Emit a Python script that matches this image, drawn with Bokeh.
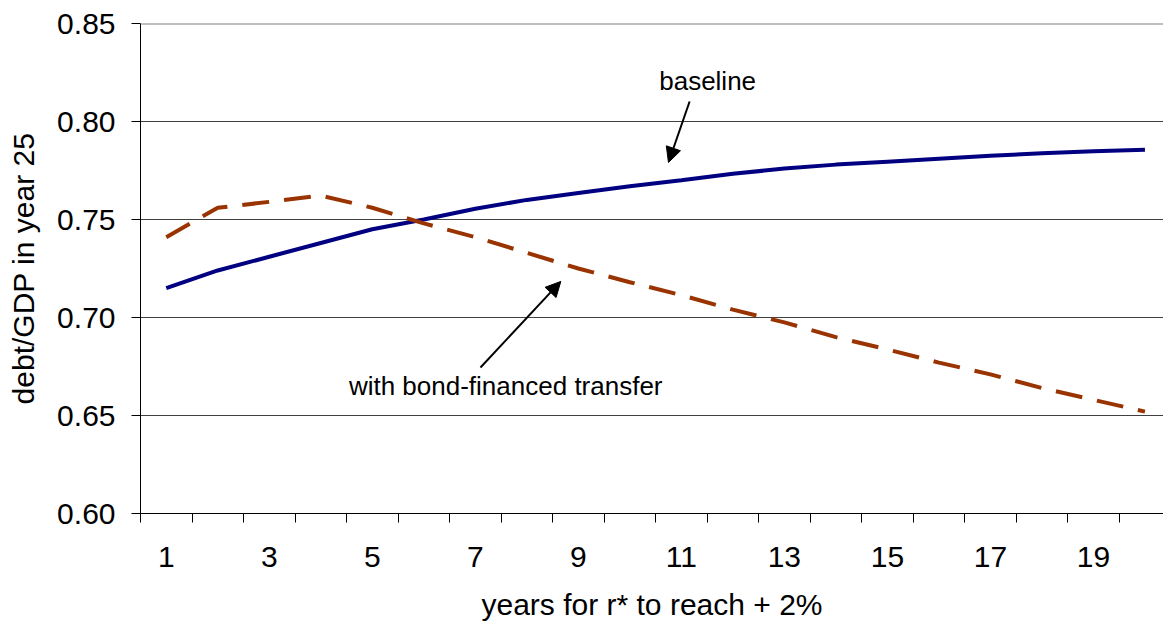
from bokeh.plotting import figure
from bokeh.models import Range1d, FixedTicker, Label, Arrow, NormalHead, Span, CustomJSTickFormatter
from bokeh.embed import file_html
from bokeh.resources import INLINE

years = list(range(1, 21))
baseline = [0.715, 0.724, 0.731, 0.738, 0.745, 0.750, 0.7555, 0.760, 0.7635, 0.767,
            0.770, 0.7733, 0.776, 0.778, 0.7795, 0.781, 0.7825, 0.7838, 0.7848, 0.7856]
bond_financed = [0.741, 0.756, 0.759, 0.7622, 0.756, 0.748, 0.741, 0.733, 0.725, 0.718,
                 0.7114, 0.704, 0.6975, 0.690, 0.6837, 0.677, 0.671, 0.664, 0.658, 0.652]
x_tick_labels = [1, 3, 5, 7, 9, 11, 13, 15, 17, 19]
y_ticks = [0.60, 0.65, 0.70, 0.75, 0.80, 0.85]

FONT = "Liberation Sans"

p = figure(width=1163, height=626, output_backend="svg", toolbar_location=None,
           x_range=Range1d(0.5, 20.36), y_range=Range1d(0.60, 0.85),
           min_border_left=140, min_border_top=23, min_border_bottom=113,
           min_border_right=0)
p.outline_line_color = None
p.background_fill_color = "white"

# grid
p.xgrid.grid_line_color = None
p.ygrid.ticker = FixedTicker(ticks=[0.65, 0.70, 0.75, 0.80])
p.ygrid.grid_line_color = "#404040"
p.ygrid.grid_line_width = 1
p.add_layout(Span(location=0.85, dimension="width", line_color="#808080", line_width=2))

# y axis
p.yaxis.ticker = FixedTicker(ticks=y_ticks)
p.yaxis.formatter = CustomJSTickFormatter(code="return tick.toFixed(2);")
p.yaxis.axis_line_color = "black"
p.yaxis.major_tick_line_color = "black"
p.yaxis.major_tick_out = 9
p.yaxis.major_tick_in = 0
p.yaxis.minor_tick_line_color = None
p.yaxis.major_label_text_font = FONT
p.yaxis.major_label_text_font_size = "30px"
p.yaxis.major_label_text_color = "black"
p.yaxis.major_label_standoff = 16
p.yaxis.axis_label = "debt/GDP in year 25"
p.yaxis.axis_label_text_font = FONT
p.yaxis.axis_label_text_font_size = "30px"
p.yaxis.axis_label_text_font_style = "normal"
p.yaxis.axis_label_text_color = "black"
p.yaxis.axis_label_standoff = 14

# x axis
p.xaxis.ticker = FixedTicker(ticks=x_tick_labels,
                             minor_ticks=[k + 0.5 for k in range(0, 20)])
p.xaxis.axis_line_color = "black"
p.xaxis.major_tick_out = 0
p.xaxis.major_tick_in = 0
p.xaxis.minor_tick_out = 9
p.xaxis.minor_tick_in = 0
p.xaxis.minor_tick_line_color = "black"
p.xaxis.major_label_text_font = FONT
p.xaxis.major_label_text_font_size = "30px"
p.xaxis.major_label_text_color = "black"
p.xaxis.major_label_standoff = 24
p.xaxis.axis_label = "years for r* to reach + 2%"
p.xaxis.axis_label_text_font = FONT
p.xaxis.axis_label_text_font_size = "30px"
p.xaxis.axis_label_text_font_style = "normal"
p.xaxis.axis_label_text_color = "black"
p.xaxis.axis_label_standoff = 18

# lines
p.line(years, baseline, line_color="#000080", line_width=4)
p.line(years, bond_financed, line_color="#993300", line_width=4, line_dash="27 15")

# annotations
p.add_layout(Label(x=11.51, y=0.8209, text="baseline", text_align="center",
                   text_baseline="middle", text_font=FONT, text_font_size="26px",
                   text_color="black"))
p.add_layout(Arrow(x_start=11.16, y_start=0.8102, x_end=10.75, y_end=0.7791,
                   line_color="black", line_width=2,
                   end=NormalHead(size=15, fill_color="black", line_color="black")))

p.add_layout(Label(x=7.59, y=0.6653, text="with bond-financed transfer",
                   text_align="center", text_baseline="middle", text_font=FONT,
                   text_font_size="26px", text_color="black"))
p.add_layout(Arrow(x_start=7.10, y_start=0.6745, x_end=8.66, y_end=0.7184,
                   line_color="black", line_width=2,
                   end=NormalHead(size=15, fill_color="black", line_color="black")))

open("out.html", "w").write(file_html(p, INLINE))
